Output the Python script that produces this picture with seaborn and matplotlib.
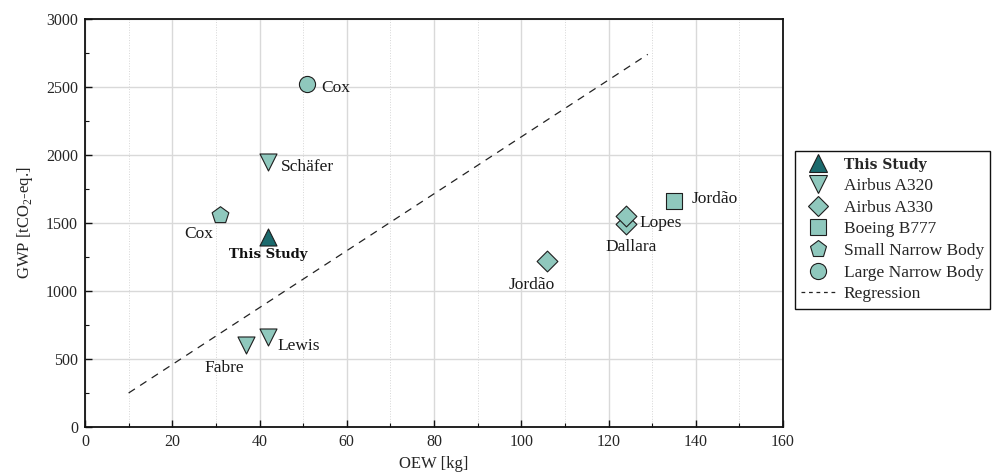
import matplotlib
matplotlib.use("Agg")
import matplotlib.pyplot as plt
import pandas as pd
import seaborn as sns
from matplotlib.lines import Line2D
from matplotlib.ticker import MultipleLocator

# ---- data -------------------------------------------------------------
categories = ["This Study", "Airbus A320", "Airbus A330", "Boeing B777",
              "Small Narrow Body", "Large Narrow Body"]
study_labels = ["This Study", "Schäfer", "Lewis", "Fabre", "Jordão",
                "Dallara", "Lopes", "Jordão", "Cox", "Cox"]
study_category = ["This Study", "Airbus A320", "Airbus A320", "Airbus A320",
                  "Airbus A330", "Airbus A330", "Airbus A330", "Boeing B777",
                  "Small Narrow Body", "Large Narrow Body"]
oew_kg = [42, 42, 42, 37, 106, 124, 124, 135, 31, 51]
gwp_t = [1400, 1950, 660, 600, 1220, 1490, 1550, 1660, 1560, 2520]
regression_oew = [10, 129]
regression_gwp = [250, 2740]

# ---- styling ----------------------------------------------------------
sns.set_theme(style="white")
plt.rcParams["font.family"] = ["Liberation Serif", "DejaVu Serif"]
plt.rcParams["mathtext.fontset"] = "custom"
plt.rcParams["mathtext.rm"] = "Liberation Serif"

light = "#8fc8bd"
dark = "#1b6a6d"
edge = "#1e1e1e"
marker_style = {
    "This Study": ("^", dark, 150),
    "Airbus A320": ("v", light, 150),
    "Airbus A330": ("D", light, 112),
    "Boeing B777": ("s", light, 140),
    "Small Narrow Body": ("p", light, 160),
    "Large Narrow Body": ("o", light, 135),
}
# annotation offsets (points) and alignment for each study
label_offsets = [(0, -13, "center"), (9, -4, "left"), (7, -6, "left"),
                 (-16, -16, "center"), (-11.5, -17, "center"),
                 (3.5, -16.5, "center"), (10, -5, "left"),
                 (13, 1.5, "left"), (-5, -14, "right"), (10, -3, "left")]

df = pd.DataFrame({"label": study_labels, "category": study_category,
                   "oew": oew_kg, "gwp": gwp_t})
reg = pd.DataFrame({"oew": regression_oew, "gwp": regression_gwp})

fig = plt.figure(figsize=(9.94, 4.72), dpi=100)
ax = fig.add_axes([85 / 994, 45 / 472, 698 / 994, 408 / 472])

# grid
ax.set_axisbelow(True)
ax.xaxis.set_major_locator(MultipleLocator(20))
ax.xaxis.set_minor_locator(MultipleLocator(10))
ax.yaxis.set_major_locator(MultipleLocator(500))
ax.yaxis.set_minor_locator(MultipleLocator(250))
ax.grid(which="major", color="#d9d9d9", linewidth=1.0)
ax.grid(which="minor", axis="x", color="#d6d6d6", linewidth=0.7, linestyle=":")

# regression line
sns.lineplot(data=reg, x="oew", y="gwp", ax=ax, color="#222222",
             linewidth=0.9, linestyle=(0, (6, 5)), legend=False, zorder=2)

# studies, one point at a time so overlapping markers stack in order
for i, row in df.iterrows():
    m, c, s = marker_style[row["category"]]
    sns.scatterplot(data=df.iloc[[i]], x="oew", y="gwp", ax=ax, marker=m,
                    color=c, s=s, edgecolor=edge, linewidth=0.8,
                    legend=False, zorder=3 + i * 0.01)
    dx, dy, ha = label_offsets[i]
    if row["label"] == "This Study":
        ax.annotate(row["label"], (row["oew"], row["gwp"]), xytext=(dx, dy),
                    textcoords="offset points", ha=ha, va="center",
                    fontsize=9.5, fontweight="bold", family="DejaVu Serif",
                    color="#111111")
    else:
        ax.annotate(row["label"], (row["oew"], row["gwp"]), xytext=(dx, dy),
                    textcoords="offset points", ha=ha, va="center",
                    fontsize=12.5, color="#1a1a1a")

ax.set_xlim(0, 160)
ax.set_ylim(0, 3000)
ax.set_xlabel("OEW [kg]", fontsize=12, labelpad=4)
ax.set_ylabel("GWP [tCO$_2$-eq.]", fontsize=12, labelpad=8)
ax.tick_params(which="both", direction="in", bottom=True, left=True,
               top=False, right=False, labelsize=11.5, color="#111111", pad=5)
ax.tick_params(which="major", length=5, width=1.0)
ax.tick_params(which="minor", length=3, width=0.8)
for side in ["top", "right", "bottom", "left"]:
    ax.spines[side].set_visible(True)
    ax.spines[side].set_color("#111111")
    ax.spines[side].set_linewidth(1.3)

# legend
handles = []
for cat in categories:
    m, c, s = marker_style[cat]
    handles.append(Line2D([], [], linestyle="none", marker=m,
                          markersize=s ** 0.5, markerfacecolor=c,
                          markeredgecolor=edge, markeredgewidth=0.8, label=cat))
handles.append(Line2D([], [], color="#222222", linewidth=0.9,
                      linestyle=(0, (3, 3)), label="Regression"))
leg = ax.legend(handles=handles, loc="upper left",
                bbox_to_anchor=(795 / 994, 1 - 151 / 472),
                bbox_transform=fig.transFigure, frameon=True, fancybox=False,
                edgecolor="#111111", framealpha=1, fontsize=12.5,
                borderpad=0.35, labelspacing=0.32, handlelength=2.0,
                handletextpad=0.45, borderaxespad=0)
leg.get_frame().set_linewidth(1.0)
leg.get_texts()[0].set_fontweight("bold")
leg.get_texts()[0].set_family("DejaVu Serif")
leg.get_texts()[0].set_fontsize(10)

fig.savefig("out.png", dpi=100)
